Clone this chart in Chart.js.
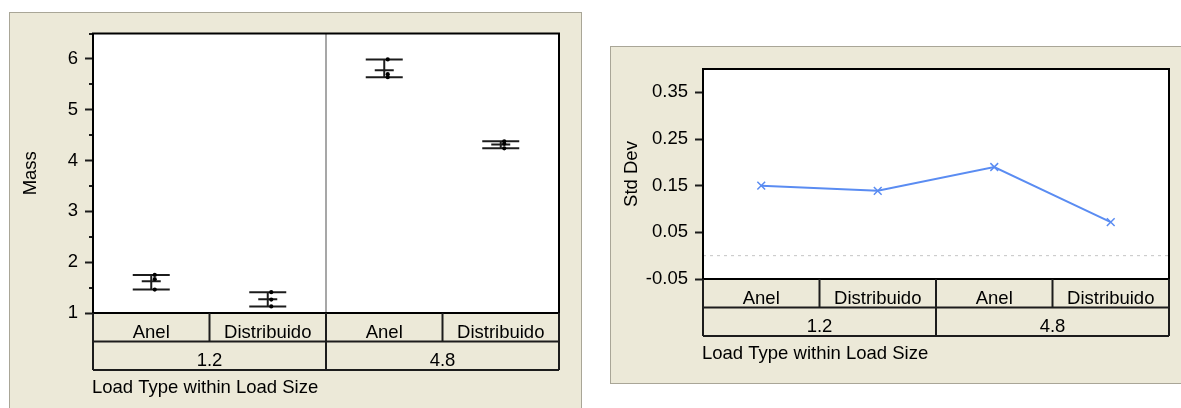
<!DOCTYPE html>
<html>
<head>
<meta charset="utf-8">
<script src="https://cdn.jsdelivr.net/npm/chart.js@4.4.1/dist/chart.umd.min.js"></script>
<style>
  html, body { margin: 0; padding: 0; background: #ffffff; width: 1181px; height: 408px; overflow: hidden; }
  .panel { position: absolute; background: #ECE9D8; box-sizing: border-box; overflow: hidden; }
  #massPanel { left: 9px; top: 12px; width: 573px; height: 410px;
               border-left: 1px solid #a9a697; border-top: 1px solid #a9a697; border-right: 1px solid #a9a697; }
  #sdPanel { left: 610px; top: 46px; width: 580px; height: 338px; border: 1px solid #a9a697; border-right: none; }
  canvas { position: absolute; left: 0; top: 0; }
</style>
</head>
<body>
<div class="panel" id="massPanel"><canvas id="massChart" width="571" height="409"></canvas></div>
<div class="panel" id="sdPanel"><canvas id="sdChart" width="570" height="336"></canvas></div>
<script>
// Nested x factors: Load Type within Load Size
const loadTypes = ['Anel', 'Distribuido', 'Anel', 'Distribuido'];
const loadSizes = ['1.2', '4.8'];
const xTitle = 'Load Type within Load Size';

// Mass observations per cell
const massAnel12 = [1.75, 1.665, 1.46];
const massDistribuido12 = [1.41, 1.265, 1.13];
const massAnel48 = [5.99, 5.70, 5.64];
const massDistribuido48 = [4.38, 4.33, 4.24];

// Std Dev per cell
const stdDev = [0.150, 0.139, 0.190, 0.072];

// Axis ranges and tick steps
const massRange = [1, 6.5];
const massStep = 0.5;
const sdRange = [-0.05, 0.4];
const sdStep = 0.05;

const FONT = '"Liberation Sans", Arial, sans-serif';
const FONT_SIZE = 18.5;
const INK = '#1c1c1c';
const ROW_H = 28.5;

Chart.defaults.font.family = FONT;
Chart.defaults.font.size = FONT_SIZE;
Chart.defaults.color = '#000';

const massCells = [massAnel12, massDistribuido12, massAnel48, massDistribuido48];
const mean = a => a.reduce((s, v) => s + v, 0) / a.length;

// Shared drawing: white plot area, frame, minor ticks and the nested factor table
function framePlugin(minorLen, dividers) {
  return {
    id: 'frame',
    beforeDraw(chart) {
      const { ctx, chartArea: a } = chart;
      ctx.save();
      ctx.fillStyle = '#ffffff';
      ctx.fillRect(a.left, a.top, a.width, a.height);
      ctx.restore();
    },
    beforeDatasetsDraw(chart) {
      const { ctx, chartArea: a, scales: { x } } = chart;
      ctx.save();
      ctx.strokeStyle = '#8a8a8a';
      ctx.lineWidth = 1.5;
      dividers.forEach(v => {
        const px = x.getPixelForValue(v);
        ctx.beginPath(); ctx.moveTo(px, a.top); ctx.lineTo(px, a.bottom); ctx.stroke();
      });
      ctx.restore();
    },
    afterDraw(chart) {
      const { ctx, chartArea: a, scales: { x, y } } = chart;
      const seg = (x1, y1, x2, y2) => { ctx.beginPath(); ctx.moveTo(x1, y1); ctx.lineTo(x2, y2); ctx.stroke(); };
      ctx.save();
      // minor ticks (unlabelled ticks of the y scale)
      ctx.strokeStyle = INK;
      ctx.lineWidth = 2;
      y.ticks.forEach(t => {
        if (t.label === '') {
          const py = Math.round(y.getPixelForValue(t.value));
          seg(a.left - minorLen, py, a.left, py);
        }
      });
      // plot frame
      ctx.strokeStyle = '#000';
      ctx.lineWidth = 2;
      ctx.strokeRect(a.left, a.top, a.width, a.height);
      // nested factor table
      const r1 = a.bottom, r2 = r1 + ROW_H, r3 = r2 + ROW_H;
      ctx.strokeStyle = INK;
      seg(a.left, r2, a.right, r2);
      seg(a.left, r3, a.right, r3);
      seg(a.left, r1, a.left, r3);
      seg(a.right, r1, a.right, r3);
      for (let i = 1; i < loadTypes.length; i++) {
        const bx = x.getPixelForValue(i - 0.5);
        const full = (i % 2 === 0);
        seg(bx, r1, bx, full ? r3 : r2);
      }
      ctx.fillStyle = '#000';
      ctx.font = FONT_SIZE + 'px ' + FONT;
      ctx.textAlign = 'center';
      ctx.textBaseline = 'alphabetic';
      loadTypes.forEach((t, i) => ctx.fillText(t, x.getPixelForValue(i), r1 + 24.7));
      loadSizes.forEach((s, j) => ctx.fillText(s, x.getPixelForValue(j * 2 + 0.5), r2 + 24.7));
      ctx.textAlign = 'left';
      ctx.fillText(xTitle, a.left - 1, r3 + 23);
      ctx.restore();
    }
  };
}

function yAxis(range, step, axisWidth, title, isMajor, fmt) {
  return {
    type: 'linear',
    min: range[0],
    max: range[1],
    afterFit(scale) {
      scale.width = axisWidth;
      scale.paddingTop = 0;
      scale.paddingBottom = 0;
    },
    ticks: {
      stepSize: step,
      padding: 7,
      color: '#000',
      font: { size: FONT_SIZE },
      callback: v => (isMajor(v) ? fmt(v) : '')
    },
    grid: {
      drawOnChartArea: false,
      tickLength: 8,
      tickWidth: 2,
      tickColor: c => (c.tick && c.tick.label ? INK : 'rgba(0,0,0,0)')
    },
    border: { display: false },
    title: { display: true, text: title, color: '#000', font: { size: FONT_SIZE }, padding: { top: 10, bottom: 0 } }
  };
}

const xHidden = { type: 'linear', min: -0.5, max: loadTypes.length - 0.5, display: false };

// ---- Variability chart of Mass ----
const DOT_SHIFT = 0.03;
const obsPoints = [];
const meanPoints = [];
const capPoints = [];
const rangeSegs = [];
massCells.forEach((vals, i) => {
  vals.forEach(v => obsPoints.push({ x: i + DOT_SHIFT, y: v }));
  const lo = Math.min(...vals), hi = Math.max(...vals);
  meanPoints.push({ x: i, y: mean(vals) });
  capPoints.push({ x: i, y: lo }, { x: i, y: hi });
  rangeSegs.push({ x: i, y: lo }, { x: i, y: hi }, { x: i, y: null });
});

new Chart(document.getElementById('massChart'), {
  type: 'scatter',
  data: {
    datasets: [
      { data: obsPoints, pointRadius: 2.1, pointBackgroundColor: '#000', pointBorderWidth: 0, showLine: false },
      { data: meanPoints, pointStyle: 'line', pointRadius: 9.5, pointBorderWidth: 2, pointBorderColor: INK, showLine: false },
      { data: capPoints, pointStyle: 'line', pointRadius: 18.5, pointBorderWidth: 2, pointBorderColor: INK, showLine: false },
      { data: rangeSegs, showLine: true, spanGaps: false, borderColor: INK, borderWidth: 2, pointRadius: 0 }
    ]
  },
  options: {
    responsive: false,
    animation: false,
    events: [],
    layout: { padding: { left: 0, top: 20, right: 22, bottom: 109 } },
    plugins: { legend: { display: false }, tooltip: { enabled: false } },
    scales: {
      x: xHidden,
      y: yAxis(massRange, massStep, 83, 'Mass', v => Math.abs(v - Math.round(v)) < 1e-9, v => String(Math.round(v)))
    }
  },
  plugins: [framePlugin(4, [1.5])]
});

// ---- Std Dev chart ----
new Chart(document.getElementById('sdChart'), {
  type: 'scatter',
  data: {
    datasets: [
      {
        data: stdDev.map((v, i) => ({ x: i, y: v })),
        showLine: true,
        borderColor: '#5a8cf2',
        borderWidth: 2,
        pointStyle: 'crossRot',
        pointRadius: 5.5,
        pointBorderWidth: 1.5,
        pointBorderColor: '#5a8cf2'
      },
      {
        data: [{ x: -0.5, y: 0 }, { x: loadTypes.length - 0.5, y: 0 }],
        showLine: true,
        borderColor: '#c4c4c4',
        borderWidth: 1,
        borderDash: [3, 4],
        pointRadius: 0
      }
    ]
  },
  options: {
    responsive: false,
    animation: false,
    events: [],
    layout: { padding: { left: 0, top: 22, right: 12, bottom: 104 } },
    plugins: { legend: { display: false }, tooltip: { enabled: false } },
    scales: {
      x: xHidden,
      y: yAxis(sdRange, sdStep, 92, 'Std Dev',
        v => Math.abs(Math.round(v * 100)) % 10 === 5,
        v => (Math.round(v * 100) / 100).toFixed(2))
    }
  },
  plugins: [framePlugin(7, [])]
});
</script>
</body>
</html>
